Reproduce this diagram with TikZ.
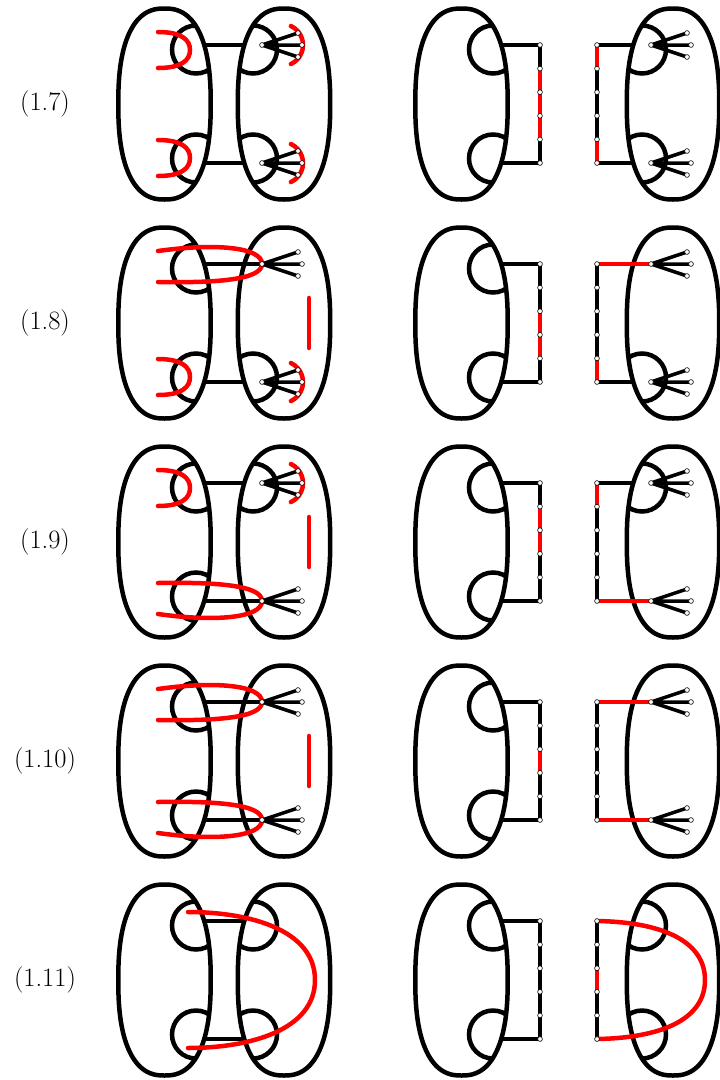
\documentclass[tikz,border=0pt]{standalone}
\usepackage{fontspec}
\tikzset{
  blk/.style={line width=4.5pt, black},
  redc/.style={line width=4.5pt, red, line cap=round},
  redseg/.style={line width=4.5pt, red},
  fanl/.style={line width=3.5pt, black, line cap=round},
  vdot/.style={fill=white, draw=black, line width=0.6pt},
  lbl/.style={font=\fontsize{26.5}{32}\selectfont, inner sep=0pt}
}
% superelliptic blob centred at (#1,104), rx=46.2, ry=95.5
\newcommand{\blobpath}[1]{plot[domain=0:357, samples=120, variable=\t] ({#1+46.2*(cos(\t)<0?-1:1)*pow(abs(cos(\t))+0.000001,0.82)}, {104+95.5*(sin(\t)<0?-1:1)*pow(abs(sin(\t))+0.000001,0.82)}) -- cycle}
\newcommand{\myhole}[3]{\begin{scope}\clip \blobpath{#1}; \draw[blk] (#2,#3) circle[radius=24pt];\end{scope}}
\newcommand{\myfan}[2]{\draw[fanl] (#1,#2) -- ++(36,-12) (#1,#2) -- ++(40,0) (#1,#2) -- ++(36,12);
  \foreach \dx/\dy in {0/0,36/-12,40/0,36/12}{\draw[vdot] ({#1+\dx},{#2+\dy}) circle[radius=2.4pt];}}
\newcommand{\rdots}{\foreach \k in {0,...,5}{\draw[vdot] (540,{45+23.6*\k}) circle[radius=2.4pt]; \draw[vdot] (597,{45+23.6*\k}) circle[radius=2.4pt];}}
\newcommand{\rseg}[2]{\draw[redseg] (#1,{45+23.6*(#2-1)}) -- (#1,{45+23.6*#2});}
\newcommand{\Lbase}{\draw[blk, line join=round] \blobpath{164.5}; \draw[blk, line join=round] \blobpath{284};}
\newcommand{\Rbase}{\draw[blk, line join=round] \blobpath{461.5}; \draw[blk, line join=round] \blobpath{673};
  \myhole{461.5}{493}{49.5}\myhole{461.5}{493}{158.5}
  \draw[blk] (502.5,45) -- (540,45) -- (540,163) -- (502.5,163);
  \draw[blk] (597,45) -- (597,163);}
\newcommand{\DTop}{\draw[redc] (158,32) .. controls (182,32) and (190,40) .. (190,50) .. controls (190,60) and (182,68) .. (158,68);}
\newcommand{\DBot}{\draw[redc] (158,140) .. controls (182,140) and (190,148) .. (190,158) .. controls (190,168) and (182,176) .. (158,176);}
\newcommand{\UTop}{\draw[redc] (158,32) .. controls (215,24) and (262,28) .. (262,45) .. controls (262,61) and (215,64) .. (158,63);}
\newcommand{\UBot}{\draw[redc] (158,176) .. controls (215,184) and (262,180) .. (262,163) .. controls (262,147) and (215,144) .. (158,145);}
\newcommand{\VSeg}{\draw[redc] (309,79) -- (309,129);}
\newcommand{\FArc}[1]{\draw[redc] (290.9,{#1-19}) arc[start angle=65,end angle=-65,radius=21pt];}
\begin{document}
\begin{tikzpicture}[x=1pt,y=-1pt]
\useasboundingbox (0,0) rectangle (720,1080);
% ---------- row 1.7 ----------
\begin{scope}
  \node[lbl] (l7) at (45,104) {(1.7)};
  \Lbase
  \myhole{164.5}{196}{49.5}\myhole{164.5}{196}{158.5}
  \myhole{284}{253}{49.5}\myhole{284}{253}{158.5}
  \draw[blk] (204.5,45) -- (244,45) (204.5,163) -- (244,163);
  \DTop \DBot \FArc{45} \FArc{163}
  \myfan{262}{45}\myfan{262}{163}
  \Rbase
  \myhole{673}{642}{49.5}\myhole{673}{642}{158.5}
  \draw[blk] (597,45) -- (633,45) (597,163) -- (633,163);
  \rseg{540}{2}\rseg{540}{3}\rseg{540}{4}\rseg{597}{1}\rseg{597}{5}
  \rdots
  \myfan{651}{45}\myfan{651}{163}
\end{scope}
% ---------- row 1.8 ----------
\begin{scope}[yshift=-219pt]
  \node[lbl] (l8) at (45,104) {(1.8)};
  \Lbase
  \myhole{164.5}{196}{49.5}\myhole{164.5}{196}{158.5}
  \myhole{284}{253}{158.5}
  \draw[blk] (204.5,45) -- (262,45) (204.5,163) -- (244,163);
  \UTop \DBot \FArc{163} \VSeg
  \myfan{262}{45}\myfan{262}{163}
  \Rbase
  \myhole{673}{642}{158.5}
  \draw[blk] (597,163) -- (633,163);
  \draw[redseg] (597,45) -- (651,45);
  \rseg{540}{3}\rseg{540}{4}\rseg{597}{5}
  \rdots
  \myfan{651}{45}\myfan{651}{163}
\end{scope}
% ---------- row 1.9 ----------
\begin{scope}[yshift=-438pt]
  \node[lbl] (l9) at (45,104) {(1.9)};
  \Lbase
  \myhole{164.5}{196}{49.5}\myhole{164.5}{196}{158.5}
  \myhole{284}{253}{49.5}
  \draw[blk] (204.5,45) -- (244,45) (204.5,163) -- (262,163);
  \DTop \FArc{45} \UBot \VSeg
  \myfan{262}{45}\myfan{262}{163}
  \Rbase
  \myhole{673}{642}{49.5}
  \draw[blk] (597,45) -- (633,45);
  \draw[redseg] (597,163) -- (651,163);
  \rseg{540}{2}\rseg{540}{3}\rseg{597}{1}
  \rdots
  \myfan{651}{45}\myfan{651}{163}
\end{scope}
% ---------- row 1.10 ----------
\begin{scope}[yshift=-657pt]
  \node[lbl] (l10) at (45,104) {(1.10)};
  \Lbase
  \myhole{164.5}{196}{49.5}\myhole{164.5}{196}{158.5}
  \draw[blk] (204.5,45) -- (262,45) (204.5,163) -- (262,163);
  \UTop \UBot \VSeg
  \myfan{262}{45}\myfan{262}{163}
  \Rbase
  \draw[redseg] (597,45) -- (651,45) (597,163) -- (651,163);
  \rseg{540}{3}
  \rdots
  \myfan{651}{45}\myfan{651}{163}
\end{scope}
% ---------- row 1.11 ----------
\begin{scope}[yshift=-876pt]
  \node[lbl] (l11) at (45,104) {(1.11)};
  \Lbase
  \myhole{164.5}{196}{49.5}\myhole{164.5}{196}{158.5}
  \myhole{284}{253}{49.5}\myhole{284}{253}{158.5}
  \draw[blk] (204.5,45) -- (244,45) (204.5,163) -- (244,163);
  \draw[redc] (188,36) .. controls (250,36) and (315,54) .. (315,104) .. controls (315,154) and (250,172) .. (188,172);
  \Rbase
  \myhole{673}{642}{49.5}\myhole{673}{642}{158.5}
  \rseg{597}{3}
  \draw[redc] (597,45) .. controls (660,46) and (705,64) .. (705,104) .. controls (705,144) and (660,162) .. (597,163);
  \rdots
\end{scope}
\end{tikzpicture}
\end{document}
